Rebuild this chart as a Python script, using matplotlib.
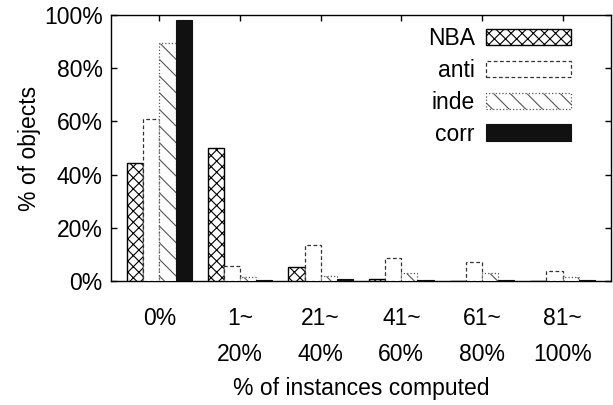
import numpy as np
import matplotlib
matplotlib.use('Agg')
import matplotlib.pyplot as plt

# share of objects per bucket of computed instances (%)
buckets = ['0%', '1~\n20%', '21~\n40%', '41~\n60%', '61~\n80%', '81~\n100%']
nba = [44.2, 49.9, 5.4, 0.7, 0.0, 0.0]
anti = [60.9, 5.6, 13.5, 8.5, 7.3, 3.9]
inde = [89.3, 1.4, 2.0, 3.0, 3.0, 1.4]
corr = [98.1, 0.4, 0.6, 0.5, 0.2, 0.2]

plt.rcParams['font.family'] = ['Liberation Sans', 'DejaVu Sans']
plt.rcParams['hatch.linewidth'] = 0.8

fs = 16.5

fig = plt.figure(figsize=(6.13, 4.05), dpi=100)
ax = fig.add_axes([0.1811, 0.3062, 0.8156, 0.6568])

x = np.arange(len(buckets))
w = 0.2

ax.bar(x - 1.5 * w, nba, w, facecolor='white', edgecolor='black',
       hatch='xxx', linewidth=1.0, label='NBA', zorder=3)
ax.bar(x - 0.5 * w, anti, w, facecolor='white', edgecolor='#333333',
       linestyle=(0, (3, 2)), linewidth=0.9, label='anti', zorder=3)
ax.bar(x + 0.5 * w, inde, w, facecolor='white', edgecolor='#555555',
       hatch='\\\\', linestyle=':', linewidth=0.9, label='inde', zorder=3)
ax.bar(x + 1.5 * w, corr, w, facecolor='#111111', edgecolor='#111111',
       linewidth=0.8, label='corr', zorder=3)

ax.set_xlim(-0.6, 5.6)
ax.set_ylim(0, 100)
ax.set_yticks([0, 20, 40, 60, 80, 100])
ax.set_yticklabels(['0%', '20%', '40%', '60%', '80%', '100%'])
ax.set_xticks(x)
ax.set_xticklabels(buckets, linespacing=1.72, multialignment='center')

ax.tick_params(direction='in', length=4, width=1, top=True, right=True,
               labelsize=fs, colors='black')
ax.tick_params(axis='x', pad=19)
ax.tick_params(axis='y', pad=6)
for s in ax.spines.values():
    s.set_linewidth(1.0)

ax.set_ylabel('% of objects', fontsize=fs, labelpad=2)
ax.set_xlabel('% of instances computed', fontsize=fs, labelpad=8)

ax.legend(loc='upper right', bbox_to_anchor=(0.948, 1.005), frameon=False,
          markerfirst=False, fontsize=fs, handlelength=3.7, handleheight=0.7,
          handletextpad=0.5, labelspacing=0.38, borderaxespad=0.2)

fig.savefig('out.png', dpi=100)
